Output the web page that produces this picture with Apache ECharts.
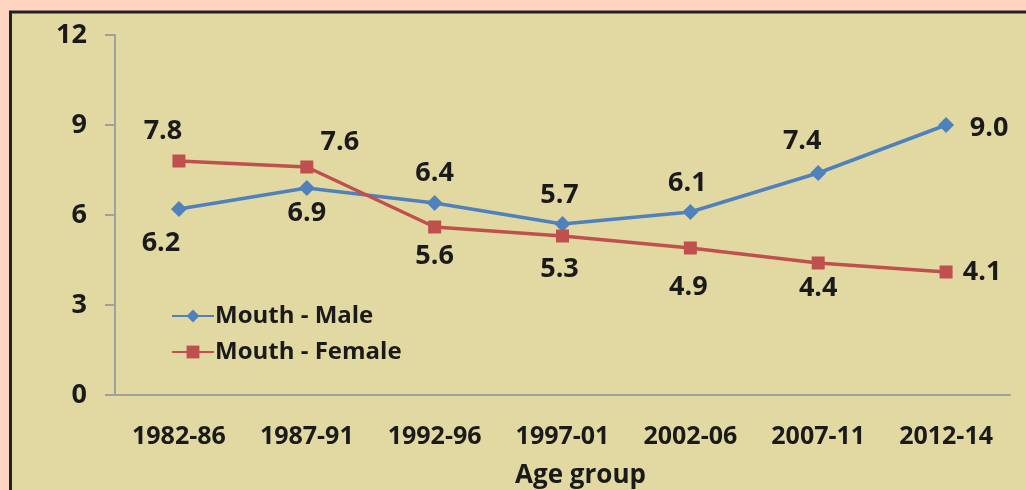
<!DOCTYPE html>
<html>
<head>
<meta charset="utf-8">
<script src="https://cdn.jsdelivr.net/npm/echarts@6/dist/echarts.min.js"></script>
<style>
  html, body { margin: 0; padding: 0; background: #ffd4c1; }
  #main { width: 1026px; height: 490px; }
</style>
</head>
<body>
<div id="main"></div>
<script>
// age groups and rates
var ageGroups = ["1982-86", "1987-91", "1992-96", "1997-01", "2002-06", "2007-11", "2012-14"];
var maleVals = [6.2, 6.9, 6.4, 5.7, 6.1, 7.4, 9.0];
var femaleVals = [7.8, 7.6, 5.6, 5.3, 4.9, 4.4, 4.1];
var yTicks = [0, 3, 6, 9, 12];

// label offsets (px) from each marker
var maleOffsets = [[-18, 34], [0, 25], [0, -30], [-3, -29], [-3, -29], [-16, -32], [43, 3]];
var femaleOffsets = [[-16, -30], [33, -25], [0, 29], [-3, 33], [-2, 39], [0, 25], [36, 0]];

var font = "'Open Sans', 'Noto Sans', sans-serif";

function withLabels(vals, offs) {
  return vals.map(function (v, i) {
    return {
      value: v,
      label: { show: true, position: "inside", offset: offs[i] }
    };
  });
}

var chart = echarts.init(document.getElementById("main"));
var option = {
  backgroundColor: "#ffd4c1",
  textStyle: { fontFamily: font },
  graphic: [{
    type: "rect",
    z: -10,
    shape: { x: 10.5, y: 12, width: 1030, height: 490 },
    style: { fill: "#e2d8a1", stroke: "#222222", lineWidth: 3 }
  }],
  grid: { left: 115, right: 16, top: 35, bottom: 95, outerBoundsMode: "none" },
  legend: {
    orient: "vertical",
    left: 166,
    top: 299,
    itemWidth: 42,
    itemHeight: 16,
    itemGap: 12,
    textStyle: { fontFamily: font, fontSize: 24, fontWeight: "bold", color: "#1a1a1a", padding: [0, 0, 0, -4] },
    data: ["Mouth - Male", "Mouth - Female"]
  },
  xAxis: {
    type: "category",
    data: ageGroups,
    boundaryGap: true,
    name: "Age group",
    nameLocation: "middle",
    nameGap: 68,
    nameTextStyle: { fontFamily: font, fontSize: 26, fontWeight: "bold", color: "#1a1a1a", padding: [0, 0, 0, 36] },
    axisLine: { lineStyle: { color: "#a0a0a0", width: 2 } },
    axisTick: { length: 8, lineStyle: { color: "#a0a0a0", width: 2 } },
    axisLabel: { fontFamily: font, fontSize: 25, fontWeight: "bold", color: "#1a1a1a", margin: 29 }
  },
  yAxis: {
    type: "value",
    min: yTicks[0],
    max: yTicks[yTicks.length - 1],
    interval: 3,
    axisLine: { show: true, lineStyle: { color: "#a0a0a0", width: 2 } },
    axisTick: { show: true, length: 10, lineStyle: { color: "#a0a0a0", width: 2 } },
    splitLine: { show: false },
    axisLabel: { fontFamily: font, fontSize: 27, fontWeight: "bold", color: "#1a1a1a", margin: 28 }
  },
  series: [{
    name: "Mouth - Male",
    type: "line",
    data: withLabels(maleVals, maleOffsets),
    symbol: "diamond",
    symbolSize: 16,
    color: "#4f81bd",
    lineStyle: { width: 3.5 },
    label: {
      fontFamily: font, fontSize: 27, fontWeight: "bold", color: "#1a1a1a",
      formatter: function (p) { return p.value.toFixed(1); }
    }
  }, {
    name: "Mouth - Female",
    type: "line",
    data: withLabels(femaleVals, femaleOffsets),
    symbol: "rect",
    symbolSize: 13,
    color: "#c0504d",
    lineStyle: { width: 3.5 },
    label: {
      fontFamily: font, fontSize: 27, fontWeight: "bold", color: "#1a1a1a",
      formatter: function (p) { return p.value.toFixed(1); }
    }
  }]
};
chart.setOption(option);
</script>
</body>
</html>
